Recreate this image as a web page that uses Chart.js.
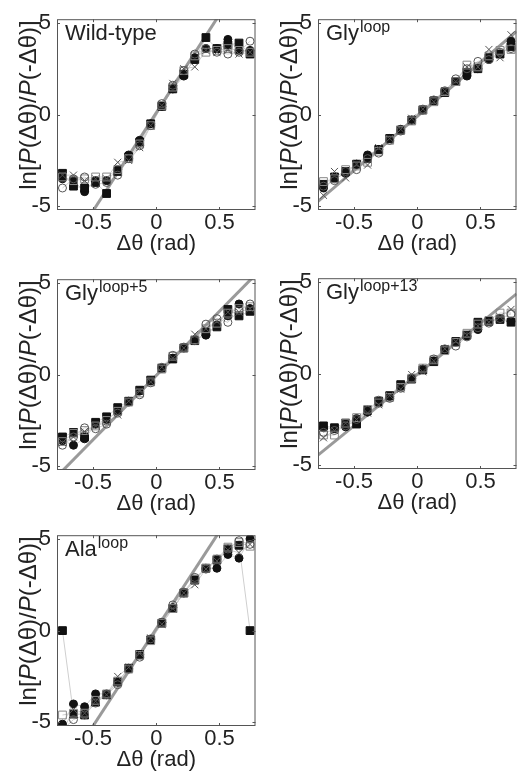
<!DOCTYPE html>
<html>
<head>
<meta charset="utf-8">
<script src="https://cdn.jsdelivr.net/npm/chart.js@4.4.1/dist/chart.umd.min.js"></script>
<style>
    html, body {
        margin: 0;
        padding: 0;
        background: #fff;
    }
    body {
        position: relative;
        width: 517px;
        height: 775px;
        overflow: hidden;
        font-family: 'Liberation Sans', Arial, sans-serif;
        color: #222;
    }
    canvas {
        position: absolute;
    }
    .panel-label {
        position: absolute;
        font-size: 22px;
        line-height: 22px;
        white-space: nowrap;
    }
    .panel-label sup {
        font-size: 16px;
        vertical-align: baseline;
        position: relative;
        top: -8px;
        margin-left: 1px;
    }
    .y-title {
        position: absolute;
        width: 220px;
        height: 26px;
        line-height: 26px;
        font-size: 24px;
        text-align: center;
        white-space: nowrap;
        transform: rotate(-90deg);
    }
</style>
</head>
<body>

<script>
// Bin centres (rad), shared by every panel
const dTheta = [-0.742, -0.655, -0.567, -0.480, -0.393, -0.305, -0.218, -0.131, -0.044,
                0.044, 0.131, 0.218, 0.305, 0.393, 0.480, 0.567, 0.655, 0.742];

const xTicks = [-0.5, 0, 0.5];
const yTicks = [-5, 0, 5];

// Wild-type
const wtFilledSq   = [-3.2, -3.9, -4.0, -3.7, -4.3, -3.1, -2.3, -1.5, -0.5, 0.45, 1.4, 2.2, 3.0, 4.2, 3.6, 3.8, 3.9, 3.3];
const wtFilledCirc = [-3.5, -3.6, -4.2, -3.6, -3.6, -3.0, -2.2, -1.4, -0.5, 0.45, 1.4, 2.1, 3.1, 3.6, 3.6, 4.1, 3.5, 3.5];
const wtOpenCirc   = [-4.0, -3.5, -3.4, -3.8, -3.7, -3.3, -2.4, -1.7, -0.6, 0.6, 1.6, 2.4, 3.3, 3.6, 3.4, 3.3, 3.4, 4.0];
const wtOpenSq     = [-3.4, -3.6, -3.5, -3.4, -3.4, -3.0, -2.4, -1.6, -0.6, 0.5, 1.5, 2.4, 3.2, 3.4, 3.5, 3.6, 3.5, 3.4];
const wtCross      = [-3.3, -3.3, -3.6, -3.5, -3.5, -2.6, -2.5, -1.8, -0.6, 0.5, 1.7, 2.5, 2.6, 3.5, 3.4, 3.5, 3.3, 3.4];

// Gly loop
const glyFilledSq   = [-3.8, -3.4, -3.1, -2.7, -2.4, -1.9, -1.3, -0.85, -0.3, 0.25, 0.75, 1.2, 1.8, 2.3, 2.5, 3.1, 3.3, 3.7];
const glyFilledCirc = [-4.0, -3.5, -3.2, -2.7, -2.2, -1.9, -1.3, -0.8, -0.3, 0.25, 0.75, 1.25, 1.8, 2.1, 2.5, 3.0, 3.3, 4.0];
const glyOpenCirc   = [-3.9, -3.6, -3.1, -3.0, -2.4, -2.1, -1.4, -0.9, -0.3, 0.3, 0.8, 1.3, 1.95, 2.5, 2.9, 3.0, 3.4, 3.6];
const glyOpenSq     = [-3.65, -3.5, -3.0, -2.8, -2.6, -2.0, -1.4, -0.85, -0.35, 0.25, 0.7, 1.25, 1.8, 2.7, 2.6, 3.2, 3.5, 3.55];
const glyCross      = [-4.4, -3.1, -3.45, -2.7, -2.75, -1.8, -1.3, -0.8, -0.2, 0.3, 0.7, 1.3, 1.8, 2.6, 2.6, 3.55, 3.1, 4.35];

// Gly loop+5
const gly5FilledSq   = [-3.4, -3.15, -3.4, -2.6, -2.3, -1.8, -1.45, -0.85, -0.3, 0.35, 0.85, 1.45, 1.85, 2.3, 2.6, 3.55, 3.2, 3.45];
const gly5FilledCirc = [-3.6, -3.85, -3.5, -2.7, -2.45, -2.0, -1.45, -0.9, -0.35, 0.35, 0.9, 1.45, 1.9, 2.15, 2.7, 3.2, 3.85, 3.6];
const gly5OpenCirc   = [-3.85, -3.4, -2.9, -2.95, -2.7, -2.1, -1.5, -1.1, -0.45, 0.4, 1.05, 1.5, 1.85, 2.75, 3.05, 2.85, 3.5, 3.85];
const gly5OpenSq     = [-3.65, -3.2, -3.05, -2.8, -2.5, -2.0, -1.5, -1.0, -0.4, 0.3, 1.0, 1.45, 1.9, 2.5, 2.8, 3.35, 3.6, 3.7];
const gly5Cross      = [-3.7, -3.4, -3.1, -2.8, -2.6, -2.2, -1.45, -0.9, -0.4, 0.4, 0.9, 1.45, 2.2, 2.5, 2.9, 3.4, 3.4, 3.6];

// Gly loop+13
const gly13FilledSq   = [-2.85, -2.95, -2.7, -2.75, -2.0, -1.5, -1.2, -0.6, -0.3, 0.2, 0.65, 1.3, 1.75, 2.1, 2.8, 2.85, 2.95, 2.8];
const gly13FilledCirc = [-2.95, -3.0, -2.9, -2.45, -2.1, -1.6, -1.25, -0.7, -0.25, 0.25, 0.7, 1.3, 1.7, 2.05, 2.4, 2.9, 3.0, 2.85];
const gly13OpenCirc   = [-3.2, -3.1, -2.85, -2.5, -2.0, -1.45, -1.35, -0.8, -0.25, 0.25, 0.8, 1.35, 1.5, 2.0, 2.5, 2.75, 3.0, 3.25];
const gly13OpenSq     = [-3.35, -3.35, -2.7, -2.4, -1.95, -1.6, -1.3, -0.75, -0.25, 0.3, 0.75, 1.25, 1.7, 2.2, 2.7, 2.9, 3.3, 3.3];
const gly13Cross      = [-3.5, -3.1, -2.7, -2.5, -2.15, -1.7, -1.2, -0.85, -0.05, 0.1, 0.7, 1.35, 1.75, 2.1, 2.6, 2.8, 3.1, 3.5];

// Ala loop
const alaFilledSq   = [0, -4.55, -4.6, -3.9, -3.5, -2.8, -2.05, -1.3, -0.5, 0.4, 1.2, 2.05, 2.75, 3.4, 3.85, 4.45, 4.65, 0];
const alaFilledCirc = [-5.1, -4.0, -4.15, -3.45, -3.45, -2.8, -2.05, -1.3, -0.5, 0.45, 1.25, 2.05, 2.8, 3.4, 3.4, 4.15, 3.95, 5.0];
const alaOpenCirc   = [-5.4, -4.85, -4.6, -3.95, -3.5, -2.95, -2.1, -1.45, -0.45, 0.45, 1.4, 2.1, 2.9, 3.35, 3.9, 4.45, 4.9, 4.7];
const alaOpenSq     = [-4.6, -4.5, -4.5, -3.8, -3.45, -2.75, -2.1, -1.35, -0.55, 0.4, 1.2, 2.05, 2.8, 3.4, 3.9, 4.55, 4.8, 4.6];
const alaCross      = [-5.5, -4.3, -4.5, -3.85, -3.5, -2.5, -2.0, -1.25, -0.4, 0.35, 1.2, 2.05, 2.5, 3.35, 3.8, 4.4, 4.25, 4.7];

// Linear fits (slope, intercept)
const fitSlopes     = [10.7, 5.9, 7.0, 5.6, 10.6];
const fitIntercepts = [0.1, -0.1, -0.05, -0.05, 0.1];

const FONT = "'Liberation Sans', Arial, sans-serif";
const X_RANGE = Math.PI / 4;
const Y_RANGE = 5.2;

// Chart area of each panel sits at (left, top) on the page
// series order: bottom of the stack first
const panels = [
    { label: 'Wild-type', left: 57, top: 10,
      series: [wtFilledCirc, wtFilledSq, wtOpenSq, wtOpenCirc, wtCross] },
    { label: 'Gly<sup>loop</sup>', left: 318, top: 10,
      series: [glyFilledCirc, glyFilledSq, glyOpenSq, glyOpenCirc, glyCross] },
    { label: 'Gly<sup>loop+5</sup>', left: 57, top: 270,
      series: [gly5FilledCirc, gly5FilledSq, gly5OpenSq, gly5OpenCirc, gly5Cross] },
    { label: 'Gly<sup>loop+13</sup>', left: 318, top: 269,
      series: [gly13FilledCirc, gly13FilledSq, gly13OpenSq, gly13OpenCirc, gly13Cross] },
    { label: 'Ala<sup>loop</sup>', left: 57, top: 526,
      series: [alaFilledCirc, alaFilledSq, alaOpenSq, alaOpenCirc, alaCross] }
];

// Marker look for each series slot (same order as panels[].series);
// open markers are hollow like MATLAB's defaults
const markerStyles = [
    { pointStyle: 'circle',   radius: 4,   bg: '#111', border: '#111' },
    { pointStyle: 'rect',     radius: 5.5, bg: '#111', border: '#111' },
    { pointStyle: 'rect',     radius: 5.5, bg: 'rgba(0,0,0,0)', border: '#888' },
    { pointStyle: 'circle',   radius: 4,   bg: 'rgba(0,0,0,0)', border: '#555' },
    { pointStyle: 'crossRot', radius: 5,   bg: '#555', border: '#555' }
];

const AXIS_W = 57;      // room left of the chart area
const PAD_TOP = 10;
const AREA_W = 201;
const AREA_H = 200;
const CANVAS_W = AXIS_W + AREA_W + 4;
const CANVAS_H = PAD_TOP + AREA_H + 49;

// Box with inward ticks on all four sides (MATLAB style)
const frameTicks = {
    id: 'frameTicks',
    afterDatasetsDraw(chart) {
        const { ctx, chartArea: a, scales: { x, y } } = chart;
        const tl = 3;
        ctx.save();
        ctx.strokeStyle = '#555';
        ctx.lineWidth = 1;
        ctx.strokeRect(a.left + 0.5, a.top + 0.5, a.right - a.left - 1, a.bottom - a.top - 1);
        ctx.beginPath();
        xTicks.forEach(v => {
            const px = Math.round(x.getPixelForValue(v)) + 0.5;
            ctx.moveTo(px, a.bottom); ctx.lineTo(px, a.bottom - tl);
            ctx.moveTo(px, a.top); ctx.lineTo(px, a.top + tl);
        });
        yTicks.forEach(v => {
            const py = Math.round(y.getPixelForValue(v)) + 0.5;
            ctx.moveTo(a.left, py); ctx.lineTo(a.left + tl, py);
            ctx.moveTo(a.right, py); ctx.lineTo(a.right - tl, py);
        });
        ctx.stroke();
        ctx.restore();
    }
};

function toPoints(values) {
    return values.map((v, i) => ({ x: dTheta[i], y: v }));
}

function buildDatasets(panel, idx) {
    const datasets = [];

    // thin light-grey connecting lines, drawn first
    panel.series.forEach(values => {
        datasets.push({
            data: toPoints(values),
            showLine: true,
            borderColor: '#cfcfcf',
            borderWidth: 1,
            pointRadius: 0,
            order: 3
        });
    });

    // fitted straight line
    const slope = fitSlopes[idx];
    const icpt = fitIntercepts[idx];
    datasets.push({
        data: [-X_RANGE, X_RANGE].map(x => ({ x: x, y: icpt + slope * x })),
        showLine: true,
        borderColor: '#9a9a9a',
        borderWidth: 3,
        pointRadius: 0,
        order: 2
    });

    // markers; later slots end up on top
    panel.series.forEach((values, s) => {
        const m = markerStyles[s];
        datasets.push({
            data: toPoints(values),
            showLine: false,
            pointStyle: m.pointStyle,
            pointRadius: m.radius,
            pointBackgroundColor: m.bg,
            pointBorderColor: m.border,
            pointBorderWidth: 1,
            order: 1 - s * 0.1
        });
    });

    return datasets;
}

function makePanel(panel, idx) {
    const canvas = document.createElement('canvas');
    canvas.width = CANVAS_W;
    canvas.height = CANVAS_H;
    canvas.style.left = (panel.left - AXIS_W) + 'px';
    canvas.style.top = (panel.top - PAD_TOP) + 'px';
    document.body.appendChild(canvas);

    new Chart(canvas.getContext('2d'), {
        type: 'scatter',
        data: { datasets: buildDatasets(panel, idx) },
        options: {
            responsive: false,
            animation: false,
            devicePixelRatio: 1,
            layout: { padding: { left: 0, top: PAD_TOP, right: CANVAS_W - AXIS_W - AREA_W, bottom: 0 } },
            plugins: {
                legend: { display: false },
                tooltip: { enabled: false }
            },
            scales: {
                x: {
                    type: 'linear',
                    min: -X_RANGE,
                    max: X_RANGE,
                    afterBuildTicks: s => { s.ticks = xTicks.map(v => ({ value: v })); },
                    afterFit: s => { s.height = CANVAS_H - PAD_TOP - AREA_H; },
                    grid: { display: false, drawTicks: false },
                    border: { display: false },
                    ticks: {
                        callback: v => String(v),
                        color: '#222',
                        padding: 0,
                        maxRotation: 0,
                        font: { family: FONT, size: 22 }
                    },
                    title: {
                        display: true,
                        text: 'Δθ (rad)',
                        color: '#222',
                        padding: { top: 0, bottom: 2 },
                        font: { family: FONT, size: 22 }
                    }
                },
                y: {
                    type: 'linear',
                    min: -Y_RANGE,
                    max: Y_RANGE,
                    afterBuildTicks: s => { s.ticks = yTicks.map(v => ({ value: v })); },
                    afterFit: s => { s.width = AXIS_W; },
                    grid: { display: false, drawTicks: false },
                    border: { display: false },
                    ticks: {
                        callback: v => String(v),
                        color: '#222',
                        padding: 6,
                        font: { family: FONT, size: 22 }
                    }
                }
            }
        },
        plugins: [frameTicks]
    });

    // panel name in the upper-left corner
    const label = document.createElement('div');
    label.className = 'panel-label';
    label.innerHTML = panel.label;
    label.style.left = (panel.left + 8) + 'px';
    label.style.top = (panel.top + 12) + 'px';
    document.body.appendChild(label);

    // rotated y-axis title with italic P
    const yTitle = document.createElement('div');
    yTitle.className = 'y-title';
    yTitle.innerHTML = 'ln[<i>P</i>(Δθ)/<i>P</i>(-Δθ)]';
    yTitle.style.left = (panel.left - 29 - 110) + 'px';
    yTitle.style.top = (panel.top + 95 - 13) + 'px';
    document.body.appendChild(yTitle);
}

panels.forEach((p, i) => makePanel(p, i));
</script>
</body>
</html>
